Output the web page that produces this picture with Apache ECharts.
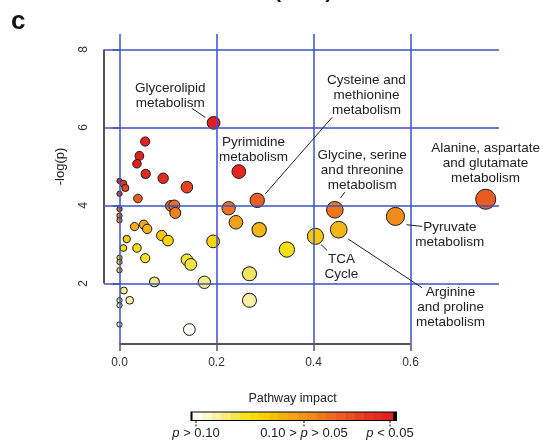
<!DOCTYPE html>
<html>
<head>
<meta charset="utf-8">
<script src="https://cdn.jsdelivr.net/npm/echarts@6/dist/echarts.min.js"></script>
<style>
  html, body { margin: 0; padding: 0; background: #ffffff; }
  #chart { width: 543px; height: 441px; }
</style>
</head>
<body>
<div id="chart"></div>
<script>
// Pathway impact (x) of each metabolic pathway
const impact = [
  0.194, 0.246, 0.284, 0.444, 0.755, 0.569, 0.404, 0.452,
  0.053, 0.041, 0.036, 0.054, 0.090, 0.139, 0.000, 0.008,
  0.012, 0.000, 0.038, 0.106, 0.113, 0.115, 0.000, 0.000,
  0.000, 0.031, 0.050, 0.057, 0.015, 0.008, 0.036, 0.053,
  0.000, 0.000, 0.000, 0.087, 0.100, 0.139, 0.147, 0.072,
  0.009, 0.000, 0.000, 0.021, 0.000, 0.144, 0.175, 0.225,
  0.240, 0.288, 0.193, 0.345, 0.268, 0.268
];
// -log(p) of each pathway, same order
const negLogP = [
  6.12, 4.87, 4.13, 3.89, 4.16, 3.72, 3.21, 3.38,
  5.64, 5.27, 5.07, 4.81, 4.70, 4.47, 4.63, 4.56,
  4.45, 4.30, 4.18, 3.99, 4.00, 3.81, 3.91, 3.74,
  3.62, 3.46, 3.51, 3.40, 3.14, 2.91, 2.91, 2.65,
  2.66, 2.55, 2.34, 3.23, 3.10, 2.61, 2.49, 2.04,
  1.82, 1.57, 1.44, 1.57, 0.95, 0.82, 2.03, 3.93,
  3.57, 3.38, 3.08, 2.87, 2.25, 1.57
];
// names of the labelled pathways
const pathwayNames = [
  'Glycerolipid\nmetabolism',
  'Pyrimidine\nmetabolism',
  'Cysteine and\nmethionine\nmetabolism',
  'Glycine, serine\nand threonine\nmetabolism',
  'Alanine, aspartate\nand glutamate\nmetabolism',
  'Pyruvate\nmetabolism',
  'TCA\nCycle',
  'Arginine\nand proline\nmetabolism'
];
const xTicks = [0, 0.2, 0.4, 0.6];
const yTicks = [2, 4, 6, 8];
const legendTexts = ['p > 0.10', '0.10 > p > 0.05', 'p < 0.05'];

const FONT = 'Liberation Sans, Arial, sans-serif';
// axis extents chosen so tick positions fall on pixel centres
const X_MIN = -0.03196, X_MAX = 0.78247;
const Y_MIN = 0.4487, Y_MAX = 8.3974;
const GRID_BLUE = '#3d52c2';

// heat colour ramp keyed on -log(p)
const heatStops = [
  [0.8, '#fffff8'], [1.0, '#fdfbe2'], [1.5, '#f6f1aa'], [2.0, '#f2e98c'],
  [2.3, '#efe45a'], [2.6, '#f2e232'], [2.9, '#f5df12'], [3.1, '#f6d40a'],
  [3.3, '#f5c010'], [3.5, '#f3a818'], [3.7, '#f18e1c'], [3.9, '#ed7620'],
  [4.15, '#ea5c20'], [4.45, '#e84422'], [4.7, '#e52c22'], [5.0, '#e3201f'],
  [9, '#e31c1c']
];
function hexToRgb(h) {
  return [parseInt(h.substr(1, 2), 16), parseInt(h.substr(3, 2), 16), parseInt(h.substr(5, 2), 16)];
}
function heat(v) {
  if (v <= heatStops[0][0]) return heatStops[0][1];
  for (let i = 1; i < heatStops.length; i++) {
    if (v <= heatStops[i][0]) {
      const [v0, c0] = heatStops[i - 1], [v1, c1] = heatStops[i];
      const t = (v - v0) / (v1 - v0);
      const a = hexToRgb(c0), b = hexToRgb(c1);
      return 'rgb(' + a.map((x, k) => Math.round(x + (b[k] - x) * t)).join(',') + ')';
    }
  }
  return heatStops[heatStops.length - 1][1];
}

// annotation layout: text centre and leader line, in data units
const labelLayout = [
  { at: [0.1046, 6.805], line: [[0.1494, 6.49], [0.1769, 6.26]] },
  { at: [0.2764, 5.432], line: null },
  { at: [0.5092, 6.830], line: [[0.4384, 6.26], [0.3007, 4.30]] },
  { at: [0.5003, 4.913], line: [[0.4644, 4.343], [0.4555, 4.19]] },
  { at: [0.7548, 5.079], line: null },
  { at: [0.6811, 3.252], line: [[0.5917, 3.507], [0.6241, 3.464]] },
  { at: [0.4576, 2.441], line: [[0.4157, 2.996], [0.4281, 2.85]] },
  { at: [0.6826, 1.386], line: [[0.4714, 3.142], [0.6241, 1.889]] }
];

const points = impact.map((x, i) => [x, negLogP[i]]);

const chart = echarts.init(document.getElementById('chart'), null, { renderer: 'canvas' });

const barColors = ['#fffff6', '#fdf8d0', '#fbf2a8', '#f8ec80', '#f6e650', '#f5e220', '#f6dc08',
  '#f6d000', '#f5c204', '#f5b20c', '#f4a414', '#f29618', '#f0881c', '#ee7a1e', '#ec6c20',
  '#ea5e20', '#e85022', '#e64222', '#e53424', '#e42824', '#e32020'];
const barStops = [];
barColors.forEach((c, i) => {
  barStops.push({ offset: i / barColors.length, color: c });
  barStops.push({ offset: (i + 1) / barColors.length, color: c });
});

const barX0 = 190.5, barX1 = 397, barY = 411.5, barH = 9.5;
const legendTickX = [196, 304, 390];

const richP = {
  i: { fontStyle: 'italic', fontSize: 13, fontFamily: FONT, fill: '#222' }
};
function legendRich(s) {
  return s.replace(/p/g, '{i|p}');
}

const graphics = [
  { type: 'text', left: 11, top: 9, style: { text: 'c', font: 'bold 26px ' + FONT, fill: '#111' } },
  { type: 'text', x: 280, y: -8, style: { text: 'PGL (5vs7)', font: 'bold 20px ' + FONT, fill: '#111', align: 'center', verticalAlign: 'middle' } },
  { type: 'text', x: 60, y: 166.5, rotation: Math.PI / 2, style: { text: '-log(p)', font: '13px ' + FONT, fill: '#222', align: 'center', verticalAlign: 'middle' } },
  { type: 'text', x: 292.5, y: 399, style: { text: 'Pathway impact', font: '12.5px ' + FONT, fill: '#222', align: 'center', verticalAlign: 'middle' } },
  { type: 'rect', shape: { x: barX0, y: barY, width: barX1 - barX0, height: barH }, style: { fill: '#000' } },
  { type: 'rect', shape: { x: barX0 + 2, y: barY + 1, width: barX1 - barX0 - 6, height: barH - 2 },
    style: { fill: new echarts.graphic.LinearGradient(0, 0, 1, 0, barStops) } }
];
legendTickX.forEach((x, i) => {
  graphics.push({ type: 'line', shape: { x1: x, y1: barY + barH, x2: x, y2: barY + barH + 7 },
    style: { stroke: '#333', lineWidth: 1.2, lineDash: [2, 1.5] } });
  graphics.push({ type: 'text', x: x, y: 433, style: {
    text: legendRich(legendTexts[i]), rich: richP, font: '13px ' + FONT, fill: '#222',
    align: 'center', verticalAlign: 'middle' } });
});

const axisTickStyle = { color: '#555', width: 1.5 };
const blueLine = { color: GRID_BLUE, width: 1.5, type: 'solid' };

chart.setOption({
  animation: false,
  backgroundColor: '#ffffff',
  grid: { left: 104, top: 34, width: 395, height: 310 },
  xAxis: {
    type: 'value', min: X_MIN, max: X_MAX,
    axisLine: { show: false },
    splitLine: { show: false },
    axisTick: { show: true, customValues: xTicks, length: 7, lineStyle: axisTickStyle },
    axisLabel: { customValues: xTicks, formatter: v => v.toFixed(1), margin: 13,
      fontSize: 12, fontFamily: FONT, color: '#333' }
  },
  yAxis: {
    type: 'value', min: Y_MIN, max: Y_MAX,
    axisLine: { show: false },
    splitLine: { show: false },
    axisTick: { show: true, customValues: yTicks, length: 7, lineStyle: axisTickStyle },
    axisLabel: { customValues: yTicks, rotate: 90, margin: 14, formatter: v => String(v),
      fontSize: 12, fontFamily: FONT, color: '#333' }
  },
  graphic: graphics,
  series: [
    {
      // blue reference lines at each tick
      type: 'scatter', data: [], z: 1, silent: true,
      markLine: {
        silent: true, symbol: 'none', animation: false,
        label: { show: false },
        lineStyle: blueLine,
        data: [
          ...xTicks.map(v => [{ coord: [v, Y_MIN], lineStyle: blueLine }, { coord: [v, Y_MAX] }]),
          ...yTicks.map(v => [{ coord: [X_MIN, v], lineStyle: blueLine }, { coord: [X_MAX, v] }])
        ]
      }
    },
    {
      // axis lines spanning the tick range only
      type: 'scatter', data: [], z: 2, silent: true,
      markLine: {
        silent: true, symbol: 'none', animation: false,
        label: { show: false },
        lineStyle: { color: '#555', width: 2, type: 'solid' },
        data: [
          [{ coord: [X_MIN, yTicks[0]] }, { coord: [X_MIN, yTicks[yTicks.length - 1]] }],
          [{ coord: [xTicks[0], Y_MIN] }, { coord: [xTicks[xTicks.length - 1], Y_MIN] }]
        ]
      }
    },
    {
      type: 'scatter', z: 3, data: points,
      symbol: 'circle',
      symbolSize: v => 5.3 + 17 * Math.sqrt(Math.max(0, v[0])),
      itemStyle: { color: p => heat(p.value[1]), borderColor: '#1a1a1a', borderWidth: 1, opacity: 1 },
      emphasis: { disabled: true }
    },
    {
      // pathway name labels with leader lines
      type: 'scatter', data: [], z: 4, silent: true,
      markPoint: {
        silent: true, symbol: 'circle', symbolSize: 0, animation: false,
        data: pathwayNames.map((name, i) => ({
          coord: labelLayout[i].at,
          label: { show: true, position: 'inside', formatter: name, fontSize: 13.5, lineHeight: 15,
            fontFamily: FONT, color: '#222', align: 'center' }
        }))
      },
      markLine: {
        silent: true, symbol: 'none', animation: false,
        label: { show: false },
        lineStyle: { color: '#222', width: 1, type: 'solid' },
        data: labelLayout.filter(l => l.line).map(l => [{ coord: l.line[0] }, { coord: l.line[1] }])
      }
    }
  ]
});
</script>
</body>
</html>
